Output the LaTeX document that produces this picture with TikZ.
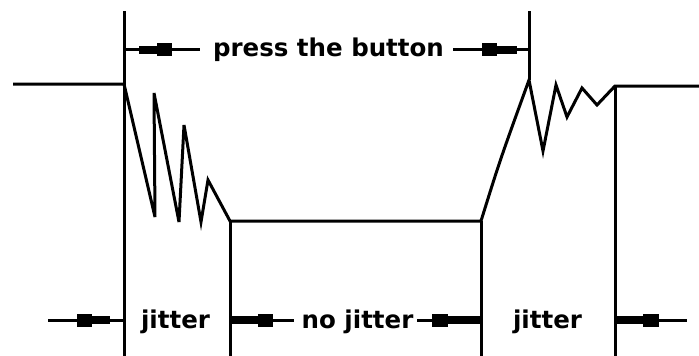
\documentclass[tikz,border=0pt]{standalone}
\usepackage{fontspec}
\setmainfont{DejaVu Sans}
\begin{document}
\begin{tikzpicture}[x=1pt,y=-1pt,
  wire/.style={line width=3pt, line join=miter, miter limit=6, line cap=butt},
  thinline/.style={line width=3pt, line cap=butt},
  midbar/.style={fill=black},
  lbl/.style={font=\bfseries\fontsize{24.5}{29}\selectfont, anchor=base, inner sep=0pt, text=black}]
\useasboundingbox (0,0) rectangle (699,356);

% signal waveform coordinates
\coordinate (s0) at (13,84);
\coordinate (s1) at (124,84);
\coordinate (z1) at (155,217);
\coordinate (z2) at (154,93);
\coordinate (z3) at (179,222);
\coordinate (z4) at (184,125);
\coordinate (z5) at (201,222);
\coordinate (z6) at (208,180);
\coordinate (lowL) at (230,221);
\coordinate (lowR) at (481,221);
\coordinate (pk) at (529,80);
\coordinate (y1) at (543,151);
\coordinate (y2) at (556,85);
\coordinate (y3) at (567,117);
\coordinate (y4) at (582,88);
\coordinate (y5) at (597,105);
\coordinate (hiL) at (615,86);
\coordinate (hiR) at (699,86);

\draw[wire] (s0) -- (s1) -- (z1) -- (z2) -- (z3) -- (z4) -- (z5) -- (z6) -- (lowL)
  -- (lowR) .. controls (500,160) .. (pk) -- (y1) -- (y2) -- (y3) -- (y4) -- (y5) -- (hiL) -- (hiR);

% vertical marker lines
\coordinate (v1t) at (124,11);  \coordinate (v1b) at (124,356);
\coordinate (v2b) at (230,356);
\coordinate (v3b) at (481,356);
\coordinate (v4t) at (529,11);
\coordinate (v5b) at (615,356);
\draw[wire] (v1t) -- (v1b);
\draw[wire] (lowL) -- (v2b);
\draw[wire] (lowR) -- (v3b);
\draw[wire] (v4t) -- (pk);
\draw[wire] (hiL) -- (v5b);

% top arrows (y = 49.5)
\coordinate (a1s) at (124,49.5); \coordinate (a1e) at (200,49.5);
\draw[thinline] (a1s) -- (a1e);
\fill[midbar] (139,45.5) rectangle (157,53.5);
\fill[midbar] (157,43) rectangle (172,56);

\coordinate (a2s) at (453,49.5); \coordinate (a2e) at (529,49.5);
\draw[thinline] (a2s) -- (a2e);
\fill[midbar] (482,43) rectangle (497,56);
\fill[midbar] (497,45.5) rectangle (517,53.5);

% bottom arrows (y = 320)
\coordinate (b1s) at (48,320); \coordinate (b1e) at (124,320);
\draw[thinline] (b1s) -- (b1e);
\fill[midbar] (77,313.5) rectangle (92,326.5);
\fill[midbar] (92,316) rectangle (110,324);

\coordinate (b2s) at (230,320); \coordinate (b2e) at (294,320);
\draw[thinline] (b2s) -- (b2e);
\fill[midbar] (231,316) rectangle (258,324);
\fill[midbar] (258,313.5) rectangle (273,326.5);

\coordinate (b3s) at (417,320); \coordinate (b3e) at (481,320);
\draw[thinline] (b3s) -- (b3e);
\fill[midbar] (432,313.5) rectangle (448,326.5);
\fill[midbar] (448,316) rectangle (480,324);

\coordinate (b4s) at (615,320); \coordinate (b4e) at (687,320);
\draw[thinline] (b4s) -- (b4e);
\fill[midbar] (616,316) rectangle (643,324);
\fill[midbar] (643,313.5) rectangle (659,326.5);

% labels
\node[lbl] (press) at (328.5,56.7) {press the button};
\node[lbl] (jit1) at (175.5,328.3) {jitter};
\node[lbl] (nojit) at (357.5,328.3) {no jitter};
\node[lbl] (jit2) at (547.5,328.3) {jitter};
\end{tikzpicture}
\end{document}
